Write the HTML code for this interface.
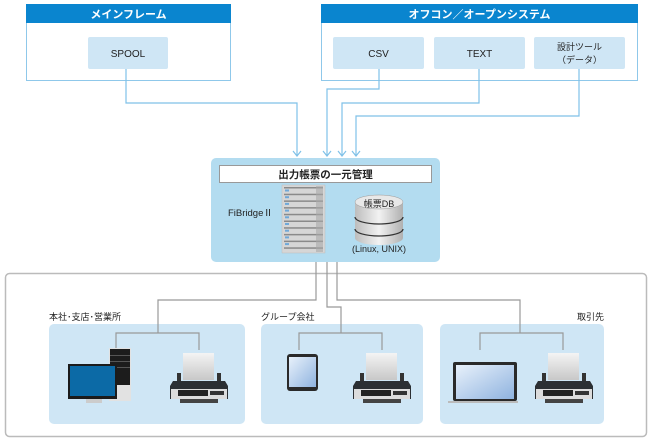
<!DOCTYPE html>
<html><head><meta charset="utf-8"><style>
html,body{margin:0;padding:0;background:#fff;}
svg{display:block;font-family:"Liberation Sans","Noto Sans CJK JP",sans-serif;}
</style></head><body>
<svg width="650" height="445" viewBox="0 0 650 445" xmlns="http://www.w3.org/2000/svg">
<defs>
<linearGradient id="pap" x1="0" y1="0" x2="0" y2="1"><stop offset="0" stop-color="#f4f4f4"/><stop offset="1" stop-color="#c8c8c8"/></linearGradient>
<linearGradient id="db" x1="0" y1="0" x2="1" y2="0"><stop offset="0" stop-color="#bdbdbd"/><stop offset=".5" stop-color="#f2f2f2"/><stop offset="1" stop-color="#b0b0b0"/></linearGradient>
<linearGradient id="scr" x1="0" y1="0" x2="1" y2="1"><stop offset="0" stop-color="#e8f1fb"/><stop offset="1" stop-color="#8fb3df"/></linearGradient>
<g id="printer">
<rect x="13" y="0" width="31" height="27" fill="url(#pap)"/>
<rect x="7" y="20" width="4" height="8" fill="#333"/><rect x="47" y="20" width="4" height="8" fill="#333"/>
<path d="M3 28 L55 28 L58 33 L58 46 L0 46 L0 33 Z" fill="#2b2f33"/>
<rect x="1" y="36" width="56" height="10" fill="#dcdcdc"/>
<rect x="8" y="37" width="30" height="6" fill="#222"/>
<rect x="40" y="38" width="14" height="4" fill="#333"/>
<rect x="10" y="46" width="38" height="4" fill="#444"/>
</g>
</defs>

<!-- top boxes -->
<rect x="26.5" y="4.5" width="204" height="76" fill="#fff" stroke="#8fc8ea"/>
<rect x="26" y="4" width="205" height="19" fill="#0a85cf"/>
<text x="128.5" y="18" font-size="11" font-weight="bold" fill="#fff" text-anchor="middle">メインフレーム</text>
<rect x="88" y="37" width="80" height="32" rx="2" fill="#cfe6f5"/>
<text x="128" y="57" font-size="10" fill="#222" text-anchor="middle">SPOOL</text>

<rect x="321.5" y="4.5" width="316" height="76" fill="#fff" stroke="#8fc8ea"/>
<rect x="321" y="4" width="317" height="19" fill="#0a85cf"/>
<text x="479.5" y="18" font-size="11" font-weight="bold" fill="#fff" text-anchor="middle">オフコン／オープンシステム</text>
<rect x="333" y="37" width="91" height="32" rx="2" fill="#cfe6f5"/>
<text x="378.5" y="57" font-size="10" fill="#222" text-anchor="middle">CSV</text>
<rect x="434" y="37" width="91" height="32" rx="2" fill="#cfe6f5"/>
<text x="479.5" y="57" font-size="10" fill="#222" text-anchor="middle">TEXT</text>
<rect x="534" y="37" width="91" height="32" rx="2" fill="#cfe6f5"/>
<text x="579.5" y="50" font-size="9" fill="#222" text-anchor="middle">設計ツール</text>
<text x="579.5" y="63" font-size="9" fill="#222" text-anchor="middle">（データ）</text>

<!-- connectors -->
<g fill="none" stroke="#7fc1e8" stroke-width="1.2">
<polyline points="126,69 126,103 297,103 297,156"/>
<polyline points="379,69 379,89 327,89 327,156"/>
<polyline points="479,69 479,103 342,103 342,156"/>
<polyline points="579,69 579,116 356,116 356,156"/>
<polyline points="293,151 297,156 301,151"/>
<polyline points="323,151 327,156 331,151"/>
<polyline points="338,151 342,156 346,151"/>
<polyline points="352,151 356,156 360,151"/>
</g>

<!-- central -->
<rect x="211" y="158" width="229" height="104" rx="5" fill="#b3dcf0"/>
<rect x="219.5" y="165.5" width="212" height="17" fill="#fff" stroke="#999"/>
<text x="325.5" y="178" font-size="10.5" font-weight="bold" fill="#222" text-anchor="middle">出力帳票の一元管理</text>
<text x="228" y="216" font-size="9.5" fill="#222">FiBridgeⅡ</text>
<rect x="282" y="185" width="43" height="68" fill="#d6d6d6" stroke="#bbb" stroke-width=".5"/>
<g fill="#8a8a8a">
<rect x="284" y="187" width="39" height="1.5"/><rect x="284" y="193.7" width="39" height="1.5"/><rect x="284" y="200.4" width="39" height="1.5"/><rect x="284" y="207.1" width="39" height="1.5"/><rect x="284" y="213.8" width="39" height="1.5"/><rect x="284" y="220.5" width="39" height="1.5"/><rect x="284" y="227.2" width="39" height="1.5"/><rect x="284" y="233.9" width="39" height="1.5"/><rect x="284" y="240.6" width="39" height="1.5"/><rect x="284" y="247.3" width="39" height="1.5"/>
</g>
<g fill="#6fa8d8">
<rect x="285" y="189.5" width="4" height="2"/><rect x="285" y="196.2" width="4" height="2"/><rect x="285" y="202.9" width="4" height="2"/><rect x="285" y="209.6" width="4" height="2"/><rect x="285" y="216.3" width="4" height="2"/><rect x="285" y="223" width="4" height="2"/><rect x="285" y="229.7" width="4" height="2"/><rect x="285" y="236.4" width="4" height="2"/><rect x="285" y="243.1" width="4" height="2"/>
</g>
<rect x="316" y="186" width="7" height="66" fill="#a8a8a8" opacity=".6"/>
<path d="M355 202 A24 7 0 0 1 403 202 L403 238 A24 7 0 0 1 355 238 Z" fill="url(#db)"/>
<ellipse cx="379" cy="202" rx="24" ry="7" fill="#e8e8e8" stroke="#999" stroke-width=".5"/>
<path d="M355 217 A24 7 0 0 0 403 217" fill="none" stroke="#333" stroke-width="1.2"/>
<path d="M355 229 A24 7 0 0 0 403 229" fill="none" stroke="#333" stroke-width="1.2"/>
<text x="379" y="207" font-size="9" fill="#222" text-anchor="middle">帳票DB</text>
<text x="379" y="252" font-size="9" fill="#222" text-anchor="middle">(Linux, UNIX)</text>

<!-- bottom container -->
<rect x="5.5" y="273.5" width="641" height="163" rx="4" fill="#fff" stroke="#bbb" stroke-width="1.5"/>
<rect x="49" y="324" width="196" height="100" rx="5" fill="#cfe6f5"/>
<rect x="261" y="324" width="162" height="100" rx="5" fill="#cfe6f5"/>
<rect x="440" y="324" width="164" height="100" rx="5" fill="#cfe6f5"/>
<text x="49" y="320" font-size="9" fill="#222">本社･支店･営業所</text>
<text x="261" y="320" font-size="9" fill="#222">グループ会社</text>
<text x="604" y="320" font-size="9" fill="#222" text-anchor="end">取引先</text>

<g fill="none" stroke="#999" stroke-width="1.2">
<polyline points="316,262 316,300 158,300 158,333"/>
<polyline points="116,350 116,333 199,333 199,350"/>
<polyline points="327,262 327,307 341,307 341,333"/>
<polyline points="299,350 299,333 382,333 382,350"/>
<polyline points="337,262 337,300 520,300 520,333"/>
<polyline points="480,350 480,333 563,333 563,350"/>
</g>

<!-- desktop -->
<rect x="109" y="348" width="22" height="53" fill="#e2e2e2"/>
<rect x="110" y="349" width="20" height="36" fill="#1c1c1c"/>
<rect x="110" y="355" width="20" height="1" fill="#555"/><rect x="110" y="361" width="20" height="1" fill="#555"/><rect x="110" y="367" width="20" height="1" fill="#555"/>
<rect x="68" y="364" width="49" height="35" fill="#1b1b1b"/>
<rect x="70" y="366" width="45" height="30" fill="#0c6aa6"/>
<rect x="86" y="399" width="16" height="4" fill="#ccc"/>
<!-- tablet -->
<rect x="287" y="354" width="31" height="37" rx="3" fill="#2a2a2a"/>
<rect x="289" y="357" width="27" height="30" fill="url(#scr)"/>
<!-- laptop -->
<rect x="453" y="362" width="64" height="39" rx="2" fill="#2a2a2a"/>
<rect x="456" y="365" width="58" height="34" fill="url(#scr)"/>
<rect x="448" y="401" width="70" height="2" fill="#bbb"/>

<use href="#printer" x="170" y="353"/>
<use href="#printer" x="353" y="353"/>
<use href="#printer" x="535" y="353"/>
</svg>
</body></html>
